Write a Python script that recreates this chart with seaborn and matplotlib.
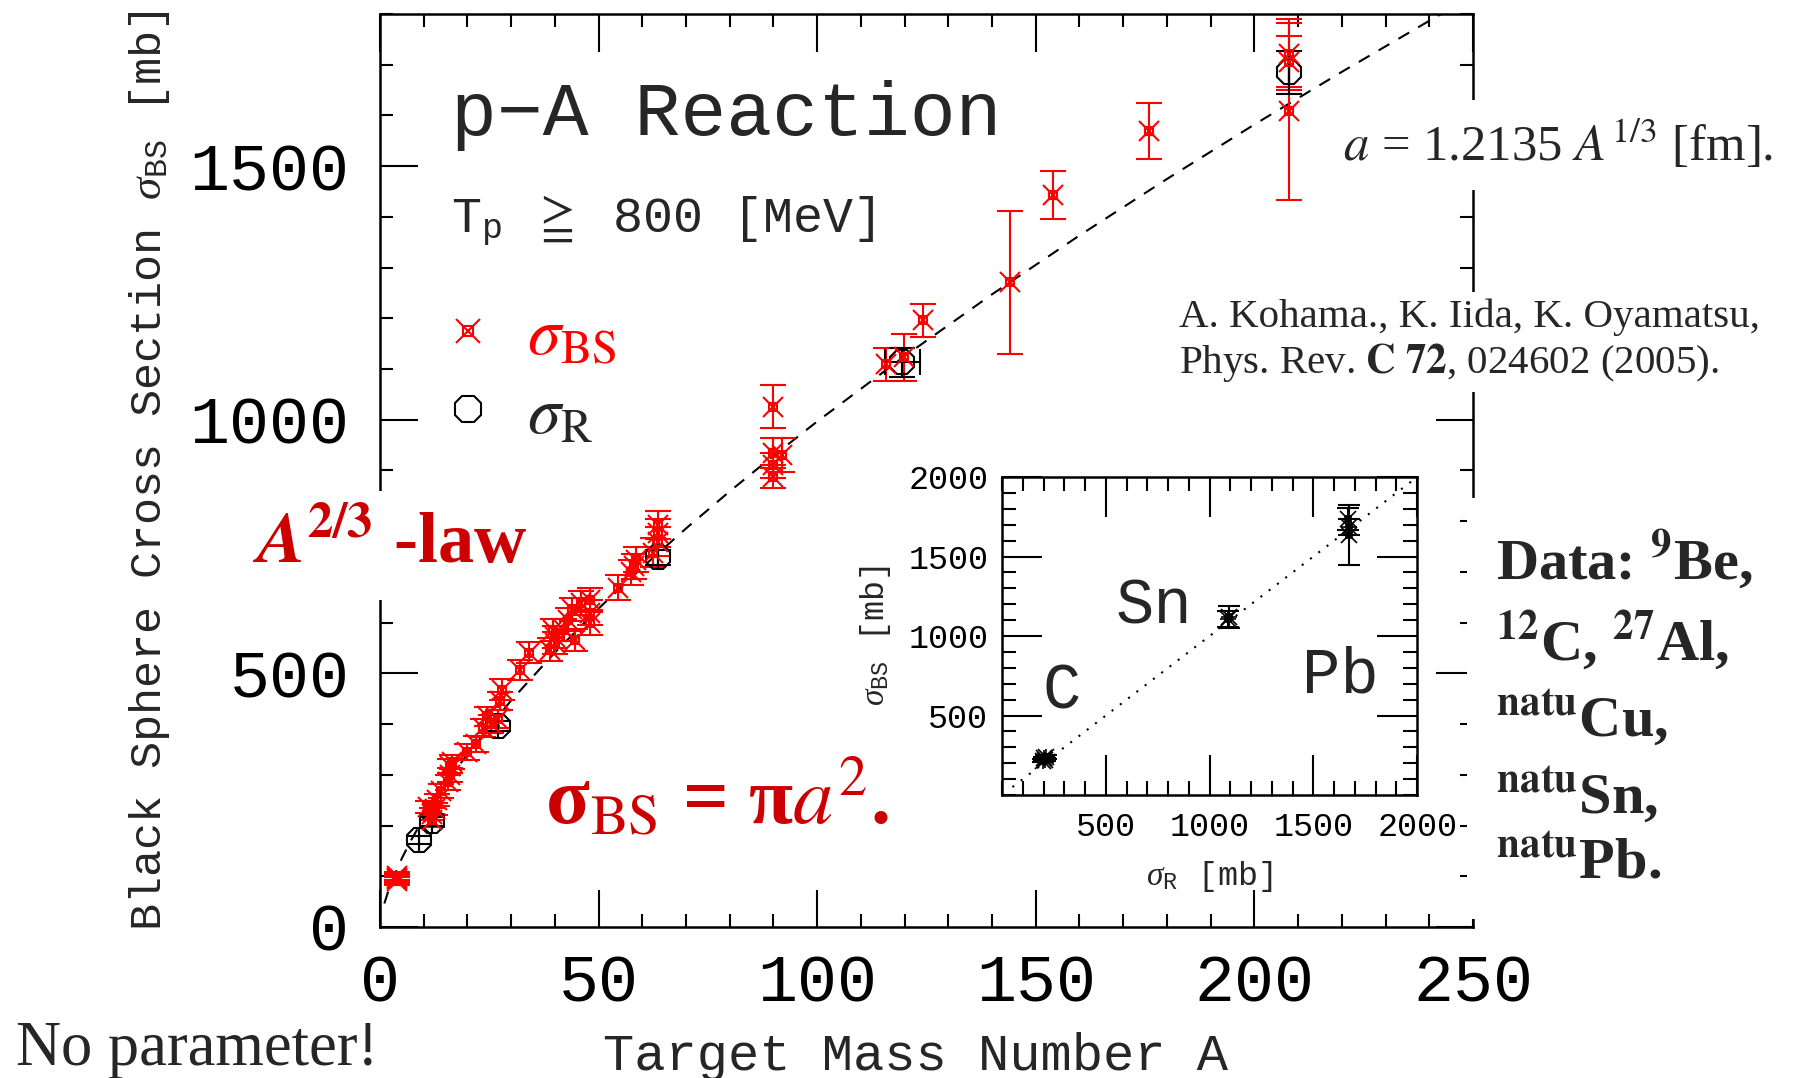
import matplotlib
matplotlib.use('Agg')
import matplotlib.pyplot as plt
import seaborn as sns
from matplotlib.lines import Line2D
from matplotlib.ticker import MultipleLocator, FixedLocator

# black sphere cross section sigma_BS (red), p-A, Tp >= 800 MeV
bs_A = [4, 4, 4, 4,
        11, 12, 12, 12.5, 13,
        14, 15.5, 16, 16, 16.5,
        20, 22, 23.5, 24.5, 25.5,
        27, 27.5, 28, 32, 34,
        39, 39.5, 40, 40, 42, 43, 44, 44.5,
        46, 48, 48, 48,
        54.5, 57.5, 58, 58.5,
        62.5, 63.5, 63.5, 63.5,
        90, 90, 90, 90, 92,
        115.7, 119.9, 124.2,
        144, 154, 176,
        208, 208, 208]
bs_sig = [90, 94, 97, 100,
          237, 210, 222, 232, 250,
          268, 285, 300, 318, 325,
          345, 360, 392, 415, 400,
          410, 445, 468, 507, 541,
          547, 586, 572, 560, 586, 606, 626, 566,
          639, 645, 620, 600,
          669, 699, 711, 724,
          738, 760, 777, 793,
          1026, 935, 910, 888, 931,
          1109, 1123, 1196,
          1271, 1443, 1569,
          1721, 1706, 1608]
bs_err = [8, 8, 8, 8,
          12, 12, 12, 12, 12,
          14, 14, 14, 14, 14,
          16, 16, 18, 18, 18,
          18, 18, 20, 20, 20,
          22, 22, 22, 22, 22, 22, 22, 22,
          24, 24, 24, 24,
          25, 25, 25, 25,
          28, 28, 28, 28,
          43, 30, 25, 22, 33,
          32, 47, 33,
          141, 48, 55,
          70, 50, 175]

# total reaction cross section sigma_R (black)
r_A = [9, 12, 27, 63.5, 119.5, 208]
r_sig = [172, 208, 396, 729, 1113, 1685]
r_err = [8, 8, 10, 15, 28, 43]
r_Aerr = [0, 0, 0, 0, 4, 0]

# sigma_BS = pi a^2, a = 1.2135 A^(1/3) fm, in mb
law_A = [1, 2, 3, 5, 7, 10, 15, 20, 30, 40, 50, 60, 70, 80, 90, 100,
         120, 140, 160, 180, 200, 220, 240, 245]
law_sig = [46.3, 73.4, 96.2, 135.3, 169.3, 214.7, 281.4, 340.8, 446.6,
           541.1, 627.8, 709.0, 785.7, 858.9, 929.0, 996.6, 1125.4,
           1247.3, 1363.4, 1474.7, 1582.1, 1685.9, 1786.5, 1811.3]

# inset: sigma_BS vs sigma_R for C, Sn, Pb
ins_R = [195, 200, 210, 205, 1090, 1095, 1668, 1672, 1670]
ins_BS = [215, 230, 240, 222, 1105, 1120, 1737, 1687, 1637]
ins_err = [10, 12, 12, 10, 50, 70, 70, 50, 190]
diag = [50, 2000]

sns.set_theme(style='ticks')
mono = ['Liberation Mono', 'DejaVu Sans Mono', 'DejaVu Sans']
serif = ['Liberation Serif', 'DejaVu Serif']
plt.rcParams['font.family'] = mono
plt.rcParams['mathtext.fontset'] = 'custom'
plt.rcParams['mathtext.rm'] = 'Liberation Mono'
plt.rcParams['mathtext.it'] = 'Liberation Serif:italic'
plt.rcParams['mathtext.bf'] = 'Liberation Serif:bold'
plt.rcParams['mathtext.fallback'] = 'stix'

fig = plt.figure(figsize=(18, 10.78), dpi=100)
fig.patch.set_facecolor('white')
ax = fig.add_axes([0.2111, 0.1401, 0.6072, 0.8469])
ax.set_facecolor('white')

sns.lineplot(x=law_A, y=law_sig, ax=ax, color='black', lw=1.5,
             linestyle=(0, (6, 5)), zorder=2)

ax.errorbar(bs_A, bs_sig, yerr=bs_err, fmt='none', ecolor='red',
            elinewidth=1.5, capsize=9.5, capthick=1.5, zorder=3)
ax.plot(bs_A, bs_sig, ls='none', marker='s', ms=6, mfc='none', mec='red', mew=1.5, zorder=4)
ax.plot(bs_A, bs_sig, ls='none', marker='x', ms=15, color='red', mew=1.5, zorder=4)

ax.errorbar(r_A, r_sig, yerr=r_err, xerr=r_Aerr, fmt='8', ms=19, mfc='none',
            mec='black', mew=1.5, ecolor='black', elinewidth=1.5,
            capsize=9.5, capthick=1.5, zorder=3)

ax.set_xlim(0, 250)
ax.set_ylim(0, 1800)
ax.xaxis.set_major_locator(MultipleLocator(50))
ax.xaxis.set_minor_locator(MultipleLocator(10))
ax.yaxis.set_major_locator(MultipleLocator(500))
ax.yaxis.set_minor_locator(MultipleLocator(100))
ax.tick_params(which='both', direction='in', top=True, right=True, width=1.5, colors='black')
ax.tick_params(which='major', length=27, labelsize=48)
ax.tick_params(which='minor', length=9.5)
ax.tick_params(axis='x', pad=19)
ax.tick_params(axis='y', pad=22)
for s in ax.spines.values():
    s.set_linewidth(1.8)
    s.set_color('black')

ax.set_xlabel('Target Mass Number A', fontsize=37.5)
ax.xaxis.set_label_coords(0.49, -0.115)
ax.set_ylabel(r'Black Sphere Cross Section $\sigma_{\rm BS}$ [mb]', fontsize=32.5)
ax.yaxis.set_label_coords(-0.19, 0.5)

# legend
h_bs = (Line2D([], [], ls='none', marker='s', ms=7, mfc='none', mec='red', mew=1.5),
        Line2D([], [], ls='none', marker='x', ms=17, color='red', mew=1.5))
h_r = Line2D([], [], ls='none', marker='8', ms=21, mfc='none', mec='black', mew=1.5)
leg = ax.legend([h_bs, h_r], [r'$\sigma_{\rm BS}$', r'$\sigma_{\rm R}$'],
                loc='upper left', bbox_to_anchor=(0.050, 0.680), frameon=False,
                fontsize=48, handlelength=1.0, handletextpad=0.39,
                labelspacing=0.25, borderpad=0, borderaxespad=0)
for t in leg.get_texts():
    t.set_math_fontfamily('stix')
leg.get_texts()[0].set_color('red')

# texts
fig.text(0.2506, 0.8748, 'p\u2212A Reaction', fontsize=55, family=mono, va='baseline')
fig.text(0.2506, 0.7848, r'T$_{\rm p}$ $\geqq$ 800 [MeV]', fontsize=36, va='baseline')

fig.text(0.1406, 0.4777, r'$\mathbfit{A}^{\mathbf{2/3}}$ -law', fontsize=52,
         family=serif, weight='bold', color='#cc0000', va='baseline',
         math_fontfamily='stix',
         bbox=dict(boxstyle='square,pad=0.3', fc='white', ec='none'))
fig.text(0.3028, 0.2356, r'σ$_{\rm BS}$ = π$a^{2}$.', fontsize=58,
         family=serif, weight='bold', color='#cc0000', va='baseline',
         math_fontfamily='stix')
fig.text(0.7461, 0.8506, r'$a$ = 1.2135 $A^{1/3}$ [fm].', fontsize=36.5,
         family=serif, va='baseline', math_fontfamily='stix',
         bbox=dict(boxstyle='square,pad=0.35', fc='white', ec='none'))
fig.text(0.655, 0.654, 'A. Kohama., K. Iida, K. Oyamatsu,\n'
         r'Phys. Rev. $\mathbf{C\ 72}$, 024602 (2005).', fontsize=29.5,
         family=serif, va='baseline', math_fontfamily='stix', linespacing=1.15,
         bbox=dict(boxstyle='square,pad=0.2', fc='white', ec='none'))
fig.text(0.8311, 0.1855, 'Data: ${}^{\\mathbf{9}}$Be,\n'
         '${}^{\\mathbf{12}}$C, ${}^{\\mathbf{27}}$Al,\n'
         '${}^{\\mathbf{natu}}$Cu,\n'
         '${}^{\\mathbf{natu}}$Sn,\n'
         '${}^{\\mathbf{natu}}$Pb.', fontsize=42, family=serif, weight='bold',
         va='baseline', math_fontfamily='stix', linespacing=1.33,
         bbox=dict(boxstyle='square,pad=0.5', fc='white', ec='none'))
fig.text(0.0089, 0.0121, 'No parameter!', fontsize=45, family=serif, va='baseline')

# inset
ins = fig.add_axes([0.5567, 0.2625, 0.2306, 0.2950])
ins.set_facecolor('white')
sns.lineplot(x=diag, y=diag, ax=ins, color='black', lw=1.5, linestyle=(0, (1, 4)))
ins.errorbar(ins_R, ins_BS, yerr=ins_err, fmt='none', ecolor='black',
             elinewidth=1.5, capsize=8, capthick=1.5)
ins.plot(ins_R, ins_BS, ls='none', marker='s', ms=5, mfc='none', mec='black', mew=1.2)
ins.plot(ins_R, ins_BS, ls='none', marker='x', ms=11, color='black', mew=1.2)
ins.plot(ins_R, ins_BS, ls='none', marker='+', ms=11, color='black', mew=1.2)
ins.set_xlim(0, 2000)
ins.set_ylim(0, 2000)
ins.xaxis.set_major_locator(FixedLocator([500, 1000, 1500, 2000]))
ins.yaxis.set_major_locator(FixedLocator([500, 1000, 1500, 2000]))
ins.xaxis.set_minor_locator(MultipleLocator(100))
ins.yaxis.set_minor_locator(MultipleLocator(100))
ins.tick_params(which='both', direction='in', top=True, right=True, width=1.5, colors='black')
ins.tick_params(which='major', length=29, labelsize=24)
ins.tick_params(which='minor', length=10)
ins.tick_params(axis='x', pad=12)
ins.tick_params(axis='y', pad=10)
for s in ins.spines.values():
    s.set_linewidth(1.8)
    s.set_color('black')
ins.set_xlabel(r'$\sigma_{\rm R}$ [mb]', fontsize=24, labelpad=12)
ins.set_ylabel(r'$\sigma_{\rm BS}$ [mb]', fontsize=24, labelpad=11)
ins.text(545, 1081, 'Sn', fontsize=46, va='baseline')
ins.text(193, 544, 'C', fontsize=46, va='baseline')
ins.text(1446, 644, 'Pb', fontsize=46, va='baseline')

fig.savefig('out.png', dpi=100, facecolor='white')
